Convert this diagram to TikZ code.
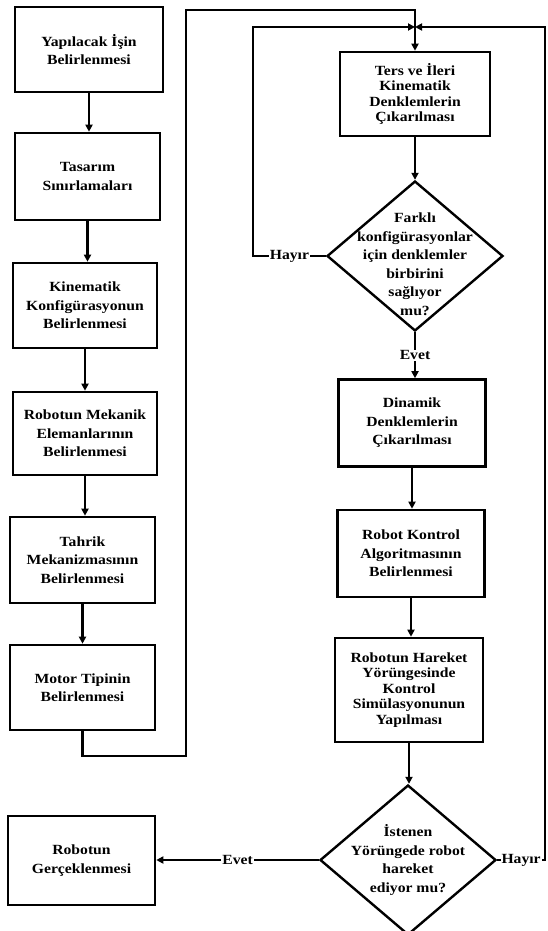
\documentclass[tikz,border=0pt]{standalone}
\usepackage{fontspec}
\setmainfont{Liberation Serif}[FakeStretch=1.12]
\usetikzlibrary{shapes.geometric,arrows.meta}
\newcommand\myfs{\fontsize{14}{18.5}\selectfont\bfseries}
\newcommand\myfst{\fontsize{14}{15.5}\selectfont\bfseries}
\begin{document}
\begin{tikzpicture}[x=1pt,y=-1pt,
  box/.style={draw,line width=2.6pt,align=center,inner sep=0pt,font=\myfs},
  dia/.style={draw,diamond,line width=2.4pt,inner sep=0pt,minimum width=176pt,minimum height=150pt},
  dtxt/.style={align=center,inner sep=0pt,font=\myfs},
  arr/.style={line width=2.2pt,-{Triangle[length=7pt,width=7pt]}},
  lab/.style={fill=white,inner sep=1pt,font=\myfs}]
\fill[white] (0,0) rectangle (548,931);
\useasboundingbox (0,0) rectangle (548,931);
% left column
\node[box,minimum width=148pt,minimum height=85pt] (b1) at (89,49.5) {Yapılacak İşin\\Belirlenmesi};
\node[box,minimum width=145pt,minimum height=87pt] (b2) at (87.5,176.5) {Tasarım\\Sınırlamaları};
\node[box,minimum width=144pt,minimum height=85pt] (b3) at (85,305.5) {Kinematik\\Konfigürasyonun\\Belirlenmesi};
\node[box,minimum width=144pt,minimum height=83pt] (b4) at (85,433.5) {Robotun Mekanik\\Elemanlarının\\Belirlenmesi};
\node[box,minimum width=145pt,minimum height=86pt] (b5) at (82.5,560) {Tahrik\\Mekanizmasının\\Belirlenmesi};
\node[box,minimum width=145pt,minimum height=85pt] (b6) at (82.5,687.5) {Motor Tipinin\\Belirlenmesi};
\node[box,minimum width=147pt,minimum height=89pt] (b7) at (81.5,860.5) {Robotun\\Gerçeklenmesi};
% right column
\node[box,minimum width=150pt,minimum height=84pt,font=\myfst] (r1) at (415,94) {Ters ve İleri\\Kinematik\\Denklemlerin\\Çıkarılması};
\node[dia] (d1) at (415,256) {};
\node[dtxt] at ([yshift=-8pt]d1.center) {Farklı\\konfigürasyonlar\\için denklemler\\birbirini\\sağlıyor\\mu?};
\node[box,minimum width=147pt,minimum height=87pt] (r2) at (412,423) {Dinamik\\Denklemlerin\\Çıkarılması};
\node[box,minimum width=147pt,minimum height=87pt] (r3) at (411,553.5) {Robot Kontrol\\Algoritmasının\\Belirlenmesi};
\node[box,minimum width=148pt,minimum height=104pt,font=\myfst] (r4) at (409,690) {Robotun Hareket\\Yörüngesinde\\Kontrol\\Simülasyonunun\\Yapılması};
\node[dia] (d2) at (408,860) {};
\node[dtxt] at (d2) {İstenen\\Yörüngede robot\\hareket\\ediyor mu?};
% left arrows
\draw[arr] (b1.south) -- (b1.south |- b2.north);
\draw[arr] (b2.south) -- (b2.south |- b3.north);
\draw[arr] (b3.south) -- (b3.south |- b4.north);
\draw[arr] (b4.south) -- (b4.south |- b5.north);
\draw[arr] (b5.south) -- (b5.south |- b6.north);
% long connector to right column
\coordinate (c2) at (186,756);
\coordinate (c3) at (186,10);
\draw[arr] (b6.south) |- (c2) -- (c3) -| (r1.north);
% junction of loops
\coordinate (jy) at (0,27);
\coordinate (j) at (r1.north |- jy);
\coordinate (h1) at (253,0);
\coordinate (h2) at (545,0);
\draw[arr] (d1.west) -- node[lab]{Hayır} (d1.west -| h1) |- (j);
\draw[arr] (d2.east) -- node[lab]{Hayır} (d2.east -| h2) |- (j);
% right arrows
\draw[arr] (r1.south) -- (r1.south |- d1.north);
\draw[arr] (d1.south) -- node[lab]{Evet} (d1.south |- r2.north);
\draw[arr] (r2.south) -- (r2.south |- r3.north);
\draw[arr] (r3.south) -- (r3.south |- r4.north);
\draw[arr] (r4.south) -- (r4.south |- d2.north);
\draw[arr] (d2.west) -- node[lab]{Evet} (b7.east |- d2.west);
\end{tikzpicture}
\end{document}
